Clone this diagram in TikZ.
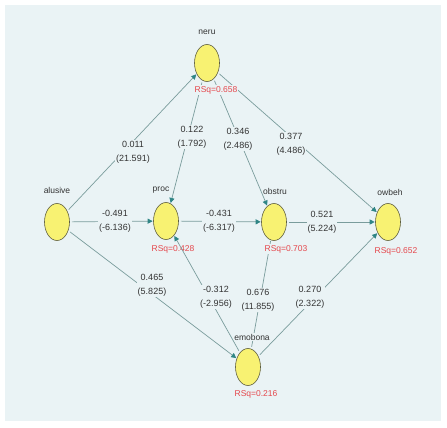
\documentclass[tikz,border=0pt]{standalone}
\usepackage{fontspec}
\setmainfont{Liberation Sans}
\usetikzlibrary{shapes.geometric,arrows.meta}
\definecolor{bgc}{HTML}{EAF3F5}
\definecolor{nodefill}{HTML}{F8F272}
\definecolor{nodeline}{HTML}{5E5E3E}
\definecolor{edgec}{HTML}{7A9C9C}
\definecolor{tipc}{HTML}{2F8585}
\definecolor{rsqc}{HTML}{E5484D}
\definecolor{txtc}{HTML}{333333}
\begin{document}
\begin{tikzpicture}[x=1pt,y=-1pt,
  lv/.style={ellipse,draw=nodeline,fill=nodefill,line width=0.6pt,minimum width=25pt,minimum height=37pt,inner sep=0pt},
  nm/.style={font=\fontsize{8.5}{10}\selectfont,text=txtc,inner sep=1pt},
  rsq/.style={font=\fontsize{8.5}{10}\selectfont,text=rsqc,fill=bgc,inner sep=1pt},
  coef/.style={font=\fontsize{9}{14}\selectfont,text=txtc,fill=bgc,align=center,inner sep=1pt},
  lnk/.style={draw=edgec,line width=0.7pt,-{Triangle[length=5pt,width=5pt,color=tipc]},shorten >=0.5pt,shorten <=2pt},
  plainlnk/.style={draw=edgec,line width=0.7pt,shorten <=2pt,shorten >=1pt}
]
\useasboundingbox (0,0) rectangle (447,428);
\fill[white] (0,0) rectangle (447,428);
\fill[bgc] (5,5) rectangle (441,421);

% latent variables
\node[lv] (neru) at (207,63) {};
\node[lv] (alusive) at (57,222) {};
\node[lv] (proc) at (166,221) {};
\node[lv] (obstru) at (274,222) {};
\node[lv] (owbeh) at (388,222) {};
\node[lv] (emobona) at (248,367) {};

% paths
\draw[lnk] (alusive) -- (neru);
\draw[lnk] (alusive) -- (proc);
\draw[lnk] (alusive) -- (emobona);
\draw[lnk] (neru) -- (proc);
\draw[lnk] (neru) -- (obstru);
\draw[lnk] (neru) -- (owbeh);
\draw[lnk] (proc) -- (obstru);
\draw[lnk] (obstru) -- (owbeh);
\draw[lnk] (emobona) -- (owbeh);
\draw[plainlnk] (emobona) -- (obstru);

% names
\node[nm] (tneru) at (207,32) {neru};
\node[nm] (talusive) at (57,190) {alusive};
\node[nm] (tproc) at (161,190) {proc};
\node[nm] (tobstru) at (275,191) {obstru};
\node[nm] (towbeh) at (390,192) {owbeh};
\node[nm,fill=bgc] (temobona) at (252,337) {emobona};

% R squared
\node[rsq] (rneru) at (216,90) {RSq=0.658};
\node[rsq] (rproc) at (173,249) {RSq=0.428};
\node[rsq] (robstru) at (286,249) {RSq=0.703};
\node[rsq] (rowbeh) at (396,251) {RSq=0.652};
\node[rsq] (remobona) at (256,394) {RSq=0.216};

% path drawn over the R squared label, its head visible above the text
\draw[lnk] (emobona) -- (proc);

% coefficients
\node[coef] (c1) at (133,152) {0.011\\(21.591)};
\node[coef] (c2) at (115,221) {-0.491\\(-6.136)};
\node[coef] (c3) at (152,285) {0.465\\(5.825)};
\node[coef] (c4) at (192,137) {0.122\\(1.792)};
\node[coef] (c5) at (238,139) {0.346\\(2.486)};
\node[coef] (c6) at (291,144) {0.377\\(4.486)};
\node[coef] (c7) at (219,221) {-0.431\\(-6.317)};
\node[coef] (c8) at (216,297) {-0.312\\(-2.956)};
\node[coef] (c9) at (258,300) {0.676\\(11.855)};
\node[coef] (c10) at (310,297) {0.270\\(2.322)};
\node[coef] (c11) at (322,222) {0.521\\(5.224)};
\end{tikzpicture}
\end{document}
